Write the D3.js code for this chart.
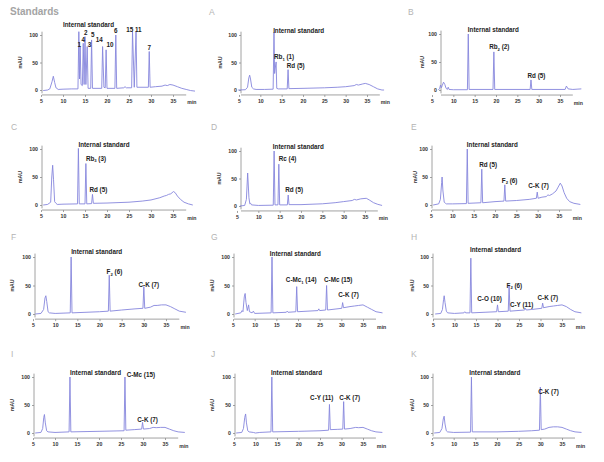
<!DOCTYPE html>
<html><head><meta charset="utf-8">
<script src="https://cdn.jsdelivr.net/npm/d3@7"></script>
<style>body{margin:0;background:#fff}svg{display:block}</style>
</head><body>
<svg id="c" width="604" height="462"></svg>
<script>
// ---------- data ----------
const xTicks = [5, 10, 15, 20, 25, 30, 35];
const yTicks = [0, 50, 100];
const panelNames = ["Standards", "A", "B", "C", "D", "E", "F", "G", "H", "I", "J", "K"];

// chromatogram traces: [retention time (min), absorbance (mAU)]
const traceStd = [[5.5,-1],[6.5,0],[7.0,2],[7.5,15],[7.8,25],[8.1,14],[8.4,4],[8.6,3],[8.9,1],[10,1.5],[12,2],[13.4,2],[13.6,106],[13.75,20],[13.9,79],[14.1,10],[14.4,8],[14.6,85],[14.8,10],[15.0,97],[15.2,10],[15.5,79],[15.7,3],[16.3,3],[16.5,91],[16.7,3],[18.8,3],[19.0,79],[19.3,5],[19.6,4],[19.8,73],[20.0,3],[21.8,3],[22.0,100],[22.2,3],[23.8,4],[24.1,6],[24.4,4],[25.6,4],[25.8,106],[26.2,5],[26.6,106],[26.8,5],[29.4,5],[29.6,70],[29.8,5],[31,6],[32.5,7],[33.2,9],[33.7,8],[34.3,10],[35,9],[36,6],[37,3],[38,1],[39,-1],[40,-2]];
const traceA = [[4.8,0],[6.5,0.5],[7.0,5],[7.3,22],[7.5,27],[7.7,20],[8.0,5],[8.4,2],[9,1],[11,1],[13.0,1.5],[13.2,105],[13.35,30],[13.5,40],[13.7,51],[13.85,3],[14.2,2],[16.3,2],[16.5,37],[16.7,2.5],[20,3],[25,4],[28,5],[30,6],[32,8],[32.5,10],[33,9],[34,11],[34.6,12],[35.5,10],[36.5,6],[37.5,2],[38.5,0],[39,0]];
const traceB = [[6.5,0],[6.8,3],[7.0,9],[7.2,4],[7.4,8],[7.7,14],[8.0,10],[8.3,3],[8.6,1],[8.8,5],[9.0,1],[10,0.5],[13.3,0.5],[13.5,100],[13.7,1],[19.3,1],[19.5,68],[19.7,1],[28.0,1],[28.2,18],[28.4,1],[36.2,1],[36.5,7],[36.9,2],[38,1],[39,1.5],[40,2]];
const traceC = [[5.5,0],[6.5,1],[7.2,5],[7.45,50],[7.65,71],[7.85,45],[8.1,6],[8.4,3],[8.7,1],[10,1.5],[13.3,2],[13.5,101],[13.7,2],[15.0,2],[15.2,74],[15.4,2],[16.5,2.5],[16.7,19],[16.9,3],[20,3.5],[25,5],[28,7],[30,9],[32,13],[33,16],[33.5,17],[34,19],[34.5,20],[35.1,24],[35.5,22],[36,16],[36.7,10],[37.5,5],[38.5,2],[39.5,0]];
const traceD = [[5.7,0],[6.8,1],[7.2,12],[7.5,60],[7.8,15],[8.0,4],[8.2,5],[8.4,2],[10,1],[13.5,1.5],[13.7,100],[13.9,2],[14.6,2],[14.8,76],[15.0,2],[16.8,2],[17.0,20],[17.2,2.5],[20,2.5],[25,4],[28,6],[30,8],[32,10],[32.5,12],[33,11],[34,13],[35.3,14],[36,11],[37,6],[38,3],[39,1]];
const traceE = [[5.5,0],[6.8,2],[7.2,10],[7.5,40],[7.6,50],[7.8,25],[8.1,5],[8.4,3],[8.6,2],[10,2],[13.3,2.5],[13.5,100],[13.7,3],[16.7,4],[16.9,64],[17.1,4],[20,6],[22.1,7],[22.3,36],[22.5,7],[25,8],[28,10],[29.7,12],[29.9,23],[30.1,12],[31,14],[32,15],[32.4,18],[32.8,17],[33.5,20],[34.3,25],[34.8,32],[35.3,39],[35.7,34],[36.2,22],[36.8,12],[37.5,6],[38.5,3],[40,1]];
const traceF = [[5.5,0],[6.8,1],[7.4,8],[7.7,28],[7.9,32],[8.1,22],[8.4,4],[8.7,2],[10,1],[13.4,2],[13.6,100],[13.8,2],[20,4],[22.0,5],[22.2,68],[22.4,5],[25,7],[28,9],[29.8,10],[30.0,48],[30.2,10],[31.5,12],[32.3,15],[33,15],[34,16],[35,16],[36,13],[37,9],[38,5],[39.5,3]];
const traceG = [[5.5,0],[6.8,2],[7.1,6],[7.3,4],[7.6,30],[7.8,36],[8.0,20],[8.3,6],[8.6,16],[8.8,4],[9.4,2],[9.7,5],[10,1],[13.8,2],[14.0,100],[14.2,2],[17.3,3],[17.5,5],[17.7,3],[19.5,4],[19.7,48],[19.9,4],[24.6,6],[24.8,9],[25.0,6],[26.4,7],[26.6,50],[26.8,7],[29,9],[30.1,10],[30.3,20],[30.5,11],[32,13],[33,14],[34,15],[35,16],[36,12],[37,8],[38,4],[39.5,2]];
const traceH = [[5.5,0],[6.8,1],[7.2,8],[7.45,25],[7.6,32],[7.8,20],[8.1,5],[8.4,2],[10,1],[12.2,2],[12.4,4],[12.6,2],[13.6,2],[13.8,98],[14.0,2],[19.8,4],[20.0,16],[20.2,4],[22.5,5],[22.7,51],[22.9,5],[26.3,7],[26.5,10],[26.7,7],[28,8],[30.3,10],[30.5,19],[30.7,11],[32,13],[33,14],[34,15],[35,16],[36,13],[37,8],[38,4],[39.5,2]];
const traceI = [[5.5,0],[6.8,1],[7.2,8],[7.45,28],[7.6,33],[7.8,18],[8.1,4],[8.4,2],[10,1],[13.2,2],[13.4,100],[13.6,2],[20,3],[25.7,4],[25.9,100],[26.1,5],[28,6],[29.7,7],[29.9,19],[30.1,7],[31.5,8],[32.3,10],[33,9.5],[34,10],[35,10],[36,7],[37,4],[38,2],[39.5,1]];
const traceJ = [[5.5,0],[6.8,1],[7.2,8],[7.5,28],[7.7,34],[7.9,18],[8.2,4],[8.5,2],[9.5,1],[10,0],[11,1],[13.6,2],[13.8,100],[14.0,2],[20,3],[25,4],[27.0,5],[27.2,51],[27.4,6],[29,6.5],[30.3,7],[30.5,56],[30.7,7],[32,8],[33.3,10],[34,9.5],[35,10],[36,7],[37,4],[38,2],[39.5,1]];
const traceK = [[5.5,0],[6.8,1],[7.3,8],[7.6,25],[7.8,30],[8.0,16],[8.3,4],[8.6,2],[10,1],[13.9,1.5],[14.1,100],[14.3,2],[20,2],[25,3],[28,4],[29.8,5],[30.0,82],[30.2,6],[31,7],[32,10],[33,11],[34,11],[35,10],[36,7],[37,4],[38,2],[39.5,1]];

// peak annotations: [text ("_" marks a subscript char), time, mAU, anchor]
const labelsStd = [["Internal standard",10.0,115,"start"],["1",13.7,78,"middle"],["4",14.6,87,"middle"],["2",15.2,100,"middle"],["3",16.0,79,"middle"],["5",16.75,96,"middle"],["14",18.25,88,"middle"],["10",20.7,78,"middle"],["6",22.0,103,"middle"],["15",25.2,105,"middle"],["11",27.1,105,"middle"],["7",29.6,73,"middle"]];
const labelsA = [["Internal standard",13.0,103,"start"],["Rb_1 (1)",13.2,56,"start"],["Rd (5)",16.2,40,"start"]];
const labelsB = [["Internal standard",13.4,103,"start"],["Rb_2 (2)",18.4,73,"start"],["Rd (5)",27.4,21,"start"]];
const labelsC = [["Internal standard",13.5,103,"start"],["Rb_3 (3)",15.2,79,"start"],["Rd (5)",16.0,23,"start"]];
const labelsD = [["Internal standard",13.4,103,"start"],["Rc (4)",14.8,82,"start"],["Rd (5)",16.3,25,"start"]];
const labelsE = [["Internal standard",13.4,103,"start"],["Rd (5)",16.3,68,"start"],["F_2 (6)",21.6,40,"start"],["C-K (7)",27.8,30,"start"]];
const labelsF = [["Internal standard",13.6,105,"start"],["F_2 (6)",21.6,70,"start"],["C-K (7)",28.8,48,"start"]];
const labelsG = [["Internal standard",13.5,102,"start"],["C-Mc_1 (14)",17.2,56,"start"],["C-Mc (15)",26.0,56,"start"],["C-K (7)",29.3,30,"start"]];
const labelsH = [["Internal standard",13.6,109,"start"],["F_2 (6)",22.1,46,"start"],["C-O (10)",15.3,22,"start"],["C-Y (11)",22.9,13,"start"],["C-K (7)",29.3,25,"start"]];
const labelsI = [["Internal standard",13.4,104,"start"],["C-Mc (15)",26.3,100,"start"],["C-K (7)",28.7,20,"start"]];
const labelsJ = [["Internal standard",13.6,104,"start"],["C-Y (11)",22.7,59,"start"],["C-K (7)",29.5,59,"start"]];
const labelsK = [["Internal standard",13.6,104,"start"],["C-K (7)",29.5,69,"start"]];

const traces = [traceStd, traceA, traceB, traceC, traceD, traceE, traceF, traceG, traceH, traceI, traceJ, traceK];
const labelSets = [labelsStd, labelsA, labelsB, labelsC, labelsD, labelsE, labelsF, labelsG, labelsH, labelsI, labelsJ, labelsK];

// ---------- layout (pixel ranges of each panel's scales) ----------
const layout = [
  {x5:41, x35:173, y0:90,  y100:35,  ax:42,  mx:20,  tx:10,  ty:15,  big:true},
  {x5:239,x35:367, y0:90,  y100:35,  ax:241, mx:220, tx:209, ty:15},
  {x5:432,x35:560, y0:90,  y100:34,  ax:441, mx:422, tx:408, ty:15},
  {x5:41, x35:173, y0:205, y100:149, ax:42,  mx:20,  tx:11,  ty:130},
  {x5:237,x35:365, y0:206, y100:151, ax:241, mx:219, tx:211, ty:130},
  {x5:431,x35:559, y0:205, y100:149, ax:432, mx:415, tx:411, ty:130},
  {x5:33, x35:166, y0:314, y100:257, ax:35,  mx:12,  tx:11,  ty:240},
  {x5:233,x35:363, y0:314, y100:257, ax:234, mx:212, tx:211, ty:240},
  {x5:433,x35:562, y0:314, y100:257, ax:433, mx:412, tx:411, ty:240},
  {x5:33, x35:165, y0:433, y100:377, ax:34,  mx:12,  tx:11,  ty:357},
  {x5:234,x35:363, y0:433, y100:377, ax:235, mx:212, tx:211, ty:357},
  {x5:432,x35:562, y0:433, y100:377, ax:433, mx:412, tx:411, ty:357}
];

const svg = d3.select("#c");
const FONT = "'Liberation Sans', Arial, sans-serif";
const LINE = "#8686dc";
const AXIS = "#8a8a8a";

layout.forEach((L, i) => {
  const g = svg.append("g");
  const x = d3.scaleLinear().domain([5, 35]).range([L.x5, L.x35]);
  const y = d3.scaleLinear().domain([0, 100]).range([L.y0, L.y100]);

  // panel title
  g.append("text").attr("x", L.tx).attr("y", L.ty)
    .attr("font-family", FONT)
    .attr("font-size", L.big ? 10 : 8.5)
    .attr("font-weight", L.big ? "bold" : "normal")
    .attr("fill", L.big ? "#a4a4a4" : "#b4b4b4")
    .text(panelNames[i]);

  // y axis
  const yAxis = d3.axisLeft(y).tickValues(yTicks).tickSize(2).tickPadding(2);
  const ya = g.append("g").attr("transform", `translate(${L.ax},0)`).call(yAxis);
  ya.select(".domain").remove();
  ya.append("line").attr("x1", 0).attr("x2", 0).attr("y1", y(-6)).attr("y2", y(106))
    .attr("stroke", AXIS).attr("stroke-width", 0.8);
  ya.selectAll(".tick line").attr("stroke", AXIS).attr("stroke-width", 0.8);
  ya.selectAll(".tick text").attr("font-family", FONT).attr("font-size", 5.2)
    .attr("font-weight", "bold").attr("fill", "#333");

  // x axis
  const xAxis = d3.axisBottom(x).tickValues(xTicks).tickSize(2).tickPadding(2);
  const xa = g.append("g").attr("transform", `translate(0,${y(-9)})`).call(xAxis);
  xa.select(".domain").remove();
  xa.append("line").attr("x1", L.ax).attr("x2", x(38)).attr("y1", 0).attr("y2", 0)
    .attr("stroke", AXIS).attr("stroke-width", 0.8);
  xa.selectAll(".tick line").attr("stroke", AXIS).attr("stroke-width", 0.8);
  xa.selectAll(".tick text").attr("font-family", FONT).attr("font-size", 5.2)
    .attr("font-weight", "bold").attr("fill", "#333");
  xa.append("text").attr("x", x(39.3)).attr("y", 9.5).attr("text-anchor", "middle")
    .attr("font-family", FONT).attr("font-size", 5.2).attr("font-weight", "bold")
    .attr("fill", "#333").text("min");

  // y label
  g.append("text")
    .attr("transform", `translate(${L.mx},${(y(0) + y(100)) / 2}) rotate(-90)`)
    .attr("text-anchor", "middle").attr("dy", "0.35em")
    .attr("font-family", FONT).attr("font-size", 5.2).attr("font-weight", "bold")
    .attr("fill", "#333").text("mAU");

  // trace
  const line = d3.line().x(d => x(d[0])).y(d => y(d[1]));
  g.append("path").datum(traces[i]).attr("d", line)
    .attr("fill", "none").attr("stroke", LINE).attr("stroke-width", 0.9)
    .attr("stroke-linejoin", "round");

  // annotations
  labelSets[i].forEach(([txt, t, v, anchor]) => {
    const tEl = g.append("text").attr("x", x(t)).attr("y", y(v))
      .attr("text-anchor", anchor).attr("font-family", FONT)
      .attr("font-size", 6.3).attr("font-weight", "bold").attr("fill", "#222");
    const k = txt.indexOf("_");
    if (k < 0) { tEl.text(txt); }
    else {
      tEl.append("tspan").text(txt.slice(0, k));
      tEl.append("tspan").attr("font-size", 4.2).attr("dy", 1.5).text(txt[k + 1]);
      tEl.append("tspan").attr("dy", -1.5).text(txt.slice(k + 2));
    }
  });
});
</script>
</body></html>
